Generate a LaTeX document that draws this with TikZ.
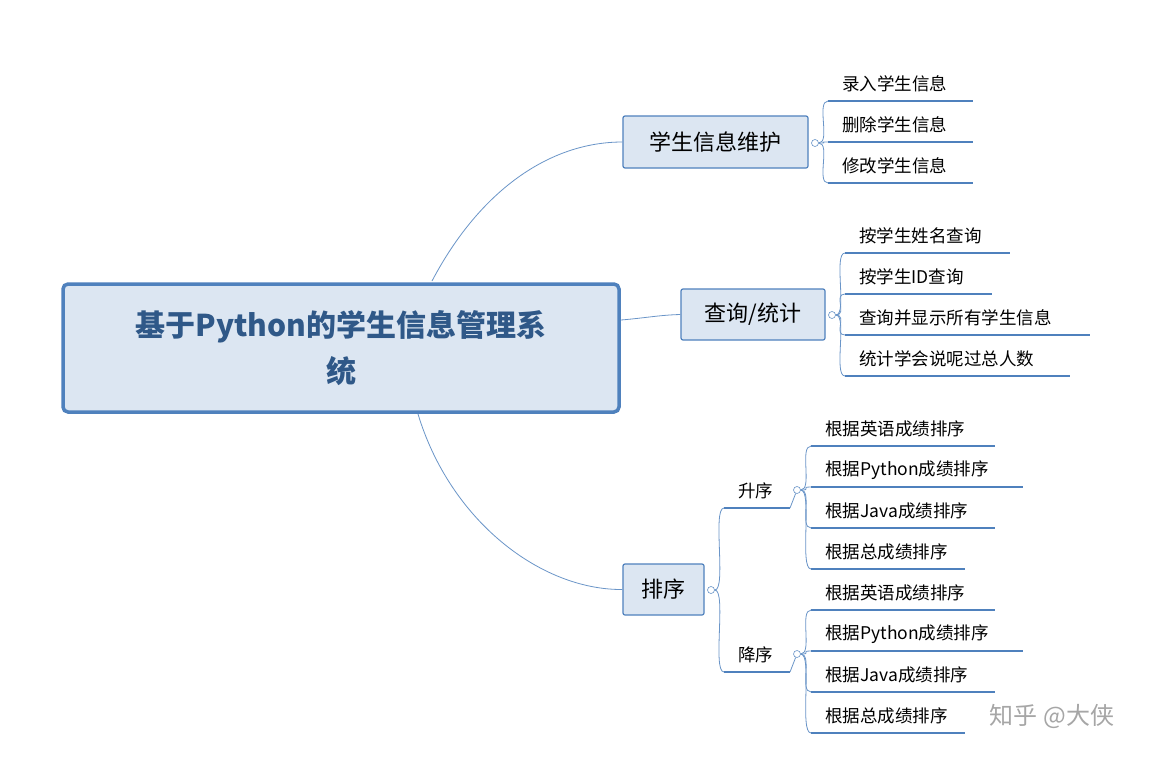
\documentclass[tikz,border=0pt]{standalone}
\usepackage{fontspec}
\setmainfont{Noto Sans CJK SC}
\newfontfamily\cjkb[BoldFont={Noto Sans CJK SC Bold}]{Noto Sans CJK SC}
\definecolor{bl}{HTML}{4F81BD}
\definecolor{ln}{HTML}{6A95C8}
\definecolor{bf}{HTML}{DCE6F2}
\definecolor{rt}{HTML}{2F5888}
\tikzset{
 branchbox/.style={draw=bl,fill=bf,line width=1.2pt,rounded corners=2pt,inner sep=0pt,font=\fontsize{22}{26}\selectfont},
 leaftext/.style={anchor=west,inner sep=0pt,font=\fontsize{17.5}{20}\selectfont},
 uline/.style={draw=bl,line width=1.6pt},
 conn/.style={draw=ln,line width=0.8pt},
 knob/.style={circle,draw=ln,fill=white,line width=0.6pt,minimum size=7pt,inner sep=0pt}
}
\newcommand{\leaf}[5]{% name, x text, y, x end, text ; bracket x from #2-14
 \node[leaftext] (#1) at (#2,#3-17) {#5};
 \coordinate (#1s) at (#2-14,#3); \coordinate (#1e) at (#4,#3);
 \draw[uline] (#1s) -- (#1e);}
\newcommand{\brk}[2]{\draw[conn] (#1.east) .. controls ($(#1.east)+(12,0)$) and ($(#2s)+(-12,0)$) .. (#2s);}
\begin{document}
\begin{tikzpicture}[x=1pt,y=-1pt]
\usetikzlibrary{calc}
\useasboundingbox[fill=white] (0,0) rectangle (1175,766);
% root
\node[draw=bl,fill=bf,line width=3.5pt,rounded corners=5pt,minimum width=556pt,minimum height=128pt,align=center,text=rt,font=\fontsize{30}{46}\bfseries\selectfont] (root) at (341,348) {基于Python的学生信息管理系\\统};
% branches
\node[branchbox,minimum width=185pt,minimum height=52pt] (b1) at (715.5,142) {学生信息维护};
\node[branchbox,minimum width=144pt,minimum height=51pt] (b2) at (753,314.5) {查询/统计};
\node[branchbox,minimum width=81pt,minimum height=51pt] (b3) at (663.5,589.5) {排序};
\coordinate (r1) at (432,281); \coordinate (r2) at (621,320); \coordinate (r3) at (418,414);
\draw[conn] (r1) .. controls (480,190) and (550,142) .. (b1.west);
\draw[conn] (r2) .. controls (645,318) and (660,315) .. (b2.west);
\draw[conn] (r3) .. controls (450,520) and (540,590) .. (b3.west);
\node[knob] (k1) at (815,143) {};
\node[knob] (k2) at (832,315) {};
\node[knob] (k3) at (711,590) {};
% b1 leaves
\leaf{a1}{842}{101}{973}{录入学生信息}
\leaf{a2}{842}{142}{973}{删除学生信息}
\leaf{a3}{842}{183}{973}{修改学生信息}
\brk{k1}{a1}\brk{k1}{a2}\brk{k1}{a3}
% b2 leaves
\leaf{q1}{859}{253}{1010}{按学生姓名查询}
\leaf{q2}{859}{294}{992}{按学生ID查询}
\leaf{q3}{859}{335}{1090}{查询并显示所有学生信息}
\leaf{q4}{859}{376}{1070}{统计学会说呢过总人数}
\brk{k2}{q1}\brk{k2}{q2}\brk{k2}{q3}\brk{k2}{q4}
% sort sub-branches
\leaf{u}{738}{508}{790}{升序}
\leaf{d}{738}{672}{790}{降序}
\brk{k3}{u}\brk{k3}{d}
\node[knob] (ku) at (797,490) {};
\node[knob] (kd) at (797,654) {};
\draw[conn] (ue) -- (ku); \draw[conn] (de) -- (kd);
\leaf{u1}{825}{446}{995}{根据英语成绩排序}
\leaf{u2}{825}{487}{1023}{根据Python成绩排序}
\leaf{u3}{825}{528}{995}{根据Java成绩排序}
\leaf{u4}{825}{569}{965}{根据总成绩排序}
\brk{ku}{u1}\brk{ku}{u2}\brk{ku}{u3}\brk{ku}{u4}
\leaf{d1}{825}{610}{995}{根据英语成绩排序}
\leaf{d2}{825}{651}{1023}{根据Python成绩排序}
\leaf{d3}{825}{692}{995}{根据Java成绩排序}
\leaf{d4}{825}{733}{965}{根据总成绩排序}
\brk{kd}{d1}\brk{kd}{d2}\brk{kd}{d3}\brk{kd}{d4}
% watermark
\node[text=black!35,font=\fontsize{24}{28}\selectfont] (wm) at (1052,716) {知乎 @大侠};
\end{tikzpicture}
\end{document}
